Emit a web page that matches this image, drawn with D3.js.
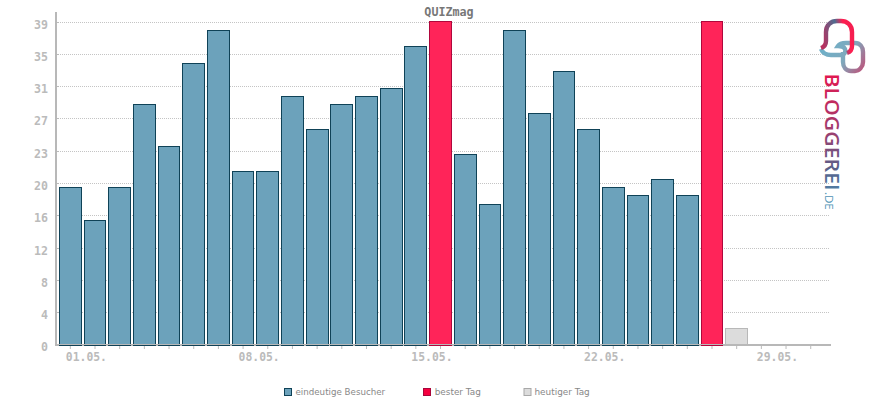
<!DOCTYPE html>
<html><head><meta charset="utf-8">
<script src="https://cdn.jsdelivr.net/npm/d3@7"></script>
<style>
html,body{margin:0;padding:0;background:#fff}
svg{display:block}
</style></head><body>
<svg id="c" width="870" height="400"></svg>
<script>
const title = "QUIZmag";
const days = d3.range(1, 32);
const visitors = [19,15,19,29,24,34,38,21,21,30,26,29,30,31,36,39,23,17,38,28,33,26,19,18,20,18,39,2];
const bestDays = [16,27];
const todayDay = 28;
const yTickValues = [0,3.9,7.8,11.7,15.6,19.5,23.4,27.3,31.2,35.1,39];
const xLabels = {1:"01.05.",8:"08.05.",15:"15.05.",22:"22.05.",29:"29.05."};
const legendItems = ["eindeutige Besucher","bester Tag","heutiger Tag"];
const brandMain = "BLOGGEREI";
const brandSuffix = ".DE";

const svg = d3.select("#c");
const mono = "'DejaVu Sans Mono','Liberation Mono',monospace";
const defs = svg.append("defs");

const x = d3.scaleBand().domain(days).range([59.45, 821.6]).paddingInner(0.1187).paddingOuter(0);
const y = d3.scaleLinear().domain([0,39]).range([345.1, 21.98]);
const crisp = v => Math.floor(v) + .5;
const gridY = v => crisp(y(v) + .05);

svg.append("text").attr("x",449).attr("y",15.5).attr("text-anchor","middle")
  .attr("font-family",mono).attr("font-weight","bold").attr("font-size",11.7).attr("fill","#777").text(title);

// grid
svg.append("g").selectAll("line").data(yTickValues.slice(1)).join("line")
  .attr("x1",58).attr("x2",830).attr("y1",gridY).attr("y2",gridY)
  .attr("stroke","#c4c4c4").attr("stroke-width",1).attr("stroke-dasharray","1 1");

// x axis line under the bars
svg.append("rect").attr("x",55).attr("y",344).attr("width",776).attr("height",2).attr("fill","#b8b8b8");

// bars
const colour = d => bestDays.includes(d) ? ["#ff2459","#b0063c"] : d===todayDay ? ["#dcdcdc","#b8b8b8"] : ["#6ca2bb","#0f4257"];
svg.append("g").selectAll("rect").data(visitors).join("rect")
  .attr("x",(d,i)=>crisp(x(i+1)))
  .attr("width",(d,i)=>crisp(x(i+1)+x.bandwidth())-crisp(x(i+1)))
  .attr("y",d=>crisp(y(d))).attr("height",d=>crisp(y(0))-crisp(y(d)))
  .attr("fill",(d,i)=>colour(i+1)[0]).attr("stroke",(d,i)=>colour(i+1)[1]).attr("stroke-width",1);
svg.append("rect").attr("x",55).attr("y",344).attr("width",776).attr("height",1).attr("fill","#b8b8b8");

// y axis
const yAxis = d3.axisLeft(y).tickValues(yTickValues).tickFormat(d=>d3.format(".0f")(d)).tickSize(3);
const gy = svg.append("g").attr("transform","translate(56,0)").call(yAxis);
gy.select(".domain").remove();
gy.selectAll(".tick").attr("transform",d=>`translate(0,${d===0?344.5:gridY(d)})`);
gy.selectAll("line").attr("x1",0).attr("x2",3).attr("stroke","#bbb");
gy.selectAll("text").attr("font-family",mono).attr("font-weight","bold").attr("font-size",11.6).attr("fill","#bbb")
  .attr("x",-8).attr("dy",".32em").attr("y",2.6);
svg.append("rect").attr("x",55).attr("y",12).attr("width",2).attr("height",334).attr("fill","#b8b8b8");

// x axis
const xAxis = d3.axisBottom(x).tickFormat(d=>xLabels[d]||"").tickSize(4);
const gx = svg.append("g").attr("transform","translate(0,345)").call(xAxis);
gx.select(".domain").remove();
gx.selectAll("line").attr("stroke","#bbb").attr("y1",1).attr("y2",4);
gx.selectAll("text").attr("font-family",mono).attr("font-weight","bold").attr("font-size",11.4).attr("fill","#bbb")
  .attr("text-anchor","start").attr("x",-4.5).attr("y",15.5).attr("dy",0);

// legend
const legendX = [284,423,523.5], legendText=[295.5,434.7,534.5];
const legendFill = ["#6ca2bb","#f5003f","#dcdcdc"], legendStroke=["#0f4257","#a8063a","#a8a8a8"];
const legendSize = [8.7,8.9,8.9];
legendItems.forEach((t,i)=>{
  svg.append("rect").attr("x",legendX[i]+.5).attr("y",388.5).attr("width",7).attr("height",7)
    .attr("fill",legendFill[i]).attr("stroke",legendStroke[i]);
  svg.append("text").attr("x",legendText[i]).attr("y",395).attr("font-family","'DejaVu Sans',sans-serif")
    .attr("font-size",legendSize[i]).attr("fill","#888").text(t);
});

// logo
const g1 = defs.append("linearGradient").attr("id","g1").attr("gradientUnits","userSpaceOnUse")
  .attr("x1",822).attr("y1",40).attr("x2",852).attr("y2",32);
g1.append("stop").attr("offset",0).attr("stop-color","#b8305f");
g1.append("stop").attr("offset",.55).attr("stop-color","#4f6c90");
g1.append("stop").attr("offset",.8).attr("stop-color","#ff1e50");
g1.append("stop").attr("offset",1).attr("stop-color","#f51e50");
const g2 = defs.append("linearGradient").attr("id","g2").attr("gradientUnits","userSpaceOnUse")
  .attr("x1",825).attr("y1",45).attr("x2",862).attr("y2",70);
g2.append("stop").attr("offset",0).attr("stop-color","#6fb0c8");
g2.append("stop").attr("offset",.55).attr("stop-color","#7fa8bc");
g2.append("stop").attr("offset",1).attr("stop-color","#b85a80");
const g3 = defs.append("linearGradient").attr("id","g3").attr("gradientUnits","userSpaceOnUse")
  .attr("x1",0).attr("y1",0).attr("x2",118).attr("y2",0);
g3.append("stop").attr("offset",0).attr("stop-color","#e3174f");
g3.append("stop").attr("offset",.5).attr("stop-color","#9c3f6f");
g3.append("stop").attr("offset",.8).attr("stop-color","#5b5f88");
g3.append("stop").attr("offset",1).attr("stop-color","#4f7fa5");
const logo = svg.append("g").attr("fill","none").attr("stroke-width",4.4).attr("stroke-linecap","butt");
logo.append("path").attr("stroke","url(#g2)")
  .attr("d","M821 49 C823 54 827 55 831 55 L841 55 C845 55 846 51 845 49 C844 47 841 46 838 46 C840 43 843 43 846 43 L855 43 C860 43 863 47 863 52 L863 62 C863 67 859 71 855 71 L851 71 C846 71 843 67 843 62 L843 52");
logo.append("path").attr("stroke","url(#g1)")
  .attr("d","M821 48 C824 47 826 45 826 41 L826 32 C826 25 831 21 837 21 L841 21 C847 21 852 25 852 32 L852 46 C852 50 850 52 847 53");
const brand = svg.append("text").attr("transform","translate(825,73.5) rotate(90)")
  .attr("font-family","'Open Sans','DejaVu Sans',sans-serif").attr("font-weight","600").attr("fill","url(#g3)");
brand.append("tspan").attr("font-size",20).attr("textLength",117).attr("lengthAdjust","spacingAndGlyphs").text(brandMain);
svg.append("text").attr("transform","translate(825,192) rotate(90)").attr("font-family","'Open Sans','DejaVu Sans',sans-serif")
  .attr("font-size",11.5).attr("fill","#4f93b5").text(brandSuffix);
</script>
</body></html>
